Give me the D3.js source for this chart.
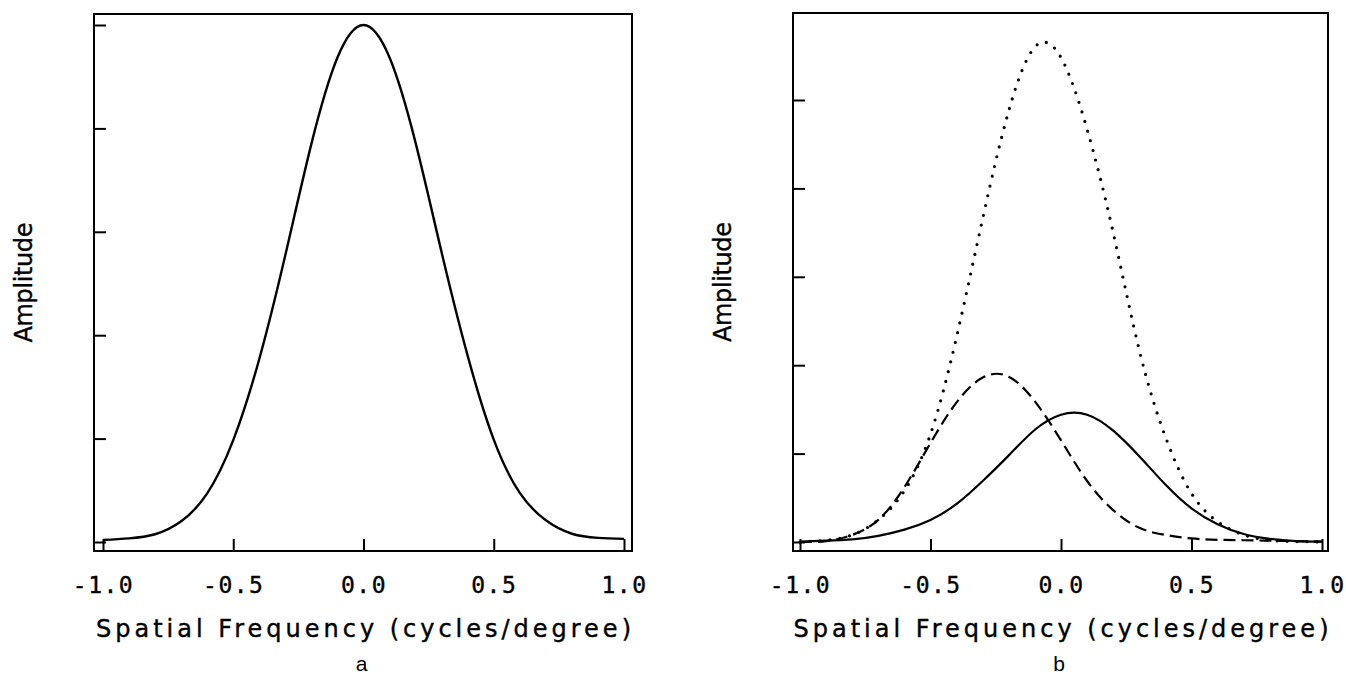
<!DOCTYPE html>
<html>
<head>
<meta charset="utf-8">
<script src="https://cdn.jsdelivr.net/npm/d3@7"></script>
<style>
    body { margin: 0; background: #fff; }
    svg { display: block; }
    .tick text { font-family: "DejaVu Sans Mono", monospace; font-size: 23px; letter-spacing: 1.5px; fill: #000; stroke: #000; stroke-width: 0.4px; }
</style>
</head>
<body>
<div id="chart"></div>
<script>
// spatial frequency samples (cycles/degree)
const freq = [-1.0, -0.9, -0.8, -0.7, -0.6, -0.5, -0.4, -0.3, -0.2, -0.1, 0.0,
              0.1, 0.2, 0.3, 0.4, 0.5, 0.6, 0.7, 0.8, 0.9, 1.0]

// panel a, single curve (peak = 1)
const curveA = [0.004, 0.007, 0.015, 0.040, 0.094, 0.197, 0.354, 0.555, 0.770, 0.937, 1.000,
                0.937, 0.772, 0.560, 0.360, 0.198, 0.095, 0.042, 0.016, 0.008, 0.006]

// panel b, three curves (tick units)
const solidB = [0.005, 0.015, 0.03, 0.07, 0.14, 0.25, 0.43, 0.69, 0.98, 1.27, 1.44,
                1.44, 1.26, 0.97, 0.65, 0.38, 0.20, 0.09, 0.035, 0.01, 0.005]
const dashedB = [0.0, 0.01, 0.08, 0.25, 0.62, 1.12, 1.58, 1.86, 1.87, 1.59, 1.15,
                 0.69, 0.36, 0.16, 0.08, 0.04, 0.025, 0.02, 0.015, 0.01, 0.005]
const dottedB = [0.0, 0.02, 0.08, 0.25, 0.58, 1.22, 2.32, 3.66, 4.88, 5.60, 5.48,
                 4.67, 3.50, 2.17, 1.19, 0.55, 0.23, 0.08, 0.02, 0.005, 0.0]

const xTicks = [-1.0, -0.5, 0.0, 0.5, 1.0]
const yTicksA = [0, 0.2, 0.4, 0.6, 0.8, 1.0]
const yTicksB = [0, 1, 2, 3, 4, 5]

const xTitle = 'Spatial Frequency (cycles/degree)'
const yTitle = 'Amplitude'
const panelNames = ['a', 'b']

const width = 1346, height = 682

const panels = [
    {
        frame: {left: 94, right: 632, top: 14, bottom: 551},
        xRange: [103, 624], yRange: [542, 25], yDomain: [0, 1], yTicks: yTicksA,
        name: panelNames[0],
        series: [{values: curveA, dash: null, width: 2.4, cap: 'butt'}]
    },
    {
        frame: {left: 793, right: 1328, top: 13, bottom: 551},
        xRange: [800, 1322], yRange: [542, 100], yDomain: [0, 5], yTicks: yTicksB,
        name: panelNames[1],
        series: [
            {values: dottedB, dash: '0 10', width: 3.2, cap: 'round'},
            {values: dashedB, dash: '12 6', width: 2.2, cap: 'butt'},
            {values: solidB, dash: null, width: 2.2, cap: 'butt'}
        ]
    }
]

const svg = d3.select('#chart')
    .append('svg')
    .attr('width', width)
    .attr('height', height)
    .attr('viewBox', '0 0 ' + width + ' ' + height)

panels.forEach(function(p) {
    const f = p.frame
    const x = d3.scaleLinear().domain([-1, 1]).range(p.xRange)
    const y = d3.scaleLinear().domain(p.yDomain).range(p.yRange)
    const g = svg.append('g')

    // frame
    g.append('rect')
        .attr('x', f.left)
        .attr('y', f.top)
        .attr('width', f.right - f.left)
        .attr('height', f.bottom - f.top)
        .attr('fill', 'none')
        .attr('stroke', '#000')
        .attr('stroke-width', 2)

    // x axis, ticks pointing in
    const xAxis = g.append('g')
        .attr('transform', 'translate(0,' + f.bottom + ')')
        .call(d3.axisBottom(x).tickValues(xTicks).tickSize(-12).tickPadding(26)
            .tickFormat(d => d.toFixed(1)))
    xAxis.select('.domain').remove()
    xAxis.selectAll('.tick line').attr('stroke-width', 2)

    // y axis, no labels
    const yAxis = g.append('g')
        .attr('transform', 'translate(' + f.left + ',0)')
        .call(d3.axisLeft(y).tickValues(p.yTicks).tickSize(-12).tickFormat(''))
    yAxis.select('.domain').remove()
    yAxis.selectAll('.tick line').attr('stroke-width', 2)

    // curves
    const line = d3.line()
        .x((d, i) => x(freq[i]))
        .y(d => y(d))
        .curve(d3.curveNatural)

    p.series.forEach(function(s) {
        g.append('path')
            .datum(s.values)
            .attr('d', line)
            .attr('fill', 'none')
            .attr('stroke', '#000')
            .attr('stroke-width', s.width)
            .attr('stroke-linecap', s.cap)
            .attr('stroke-linejoin', 'round')
            .attr('stroke-dasharray', s.dash)
    })

    // titles
    g.append('text')
        .attr('x', x(0))
        .attr('y', 637)
        .attr('text-anchor', 'middle')
        .attr('textLength', 535)
        .attr('lengthAdjust', 'spacing')
        .attr('font-family', 'DejaVu Sans, sans-serif')
        .attr('font-size', 24)
        .attr('stroke', '#000')
        .attr('stroke-width', 0.4)
        .text(xTitle)

    g.append('text')
        .attr('transform', 'translate(' + (f.left - 62) + ',' + ((f.top + f.bottom) / 2) + ') rotate(-90)')
        .attr('text-anchor', 'middle')
        .attr('textLength', 120)
        .attr('lengthAdjust', 'spacing')
        .attr('font-family', 'DejaVu Sans, sans-serif')
        .attr('font-size', 24)
        .attr('stroke', '#000')
        .attr('stroke-width', 0.4)
        .text(yTitle)

    g.append('text')
        .attr('x', x(0) - 2)
        .attr('y', 671)
        .attr('text-anchor', 'middle')
        .attr('font-family', 'Liberation Sans, Arial, sans-serif')
        .attr('font-size', 21)
        .text(p.name)
})
</script>
</body>
</html>
